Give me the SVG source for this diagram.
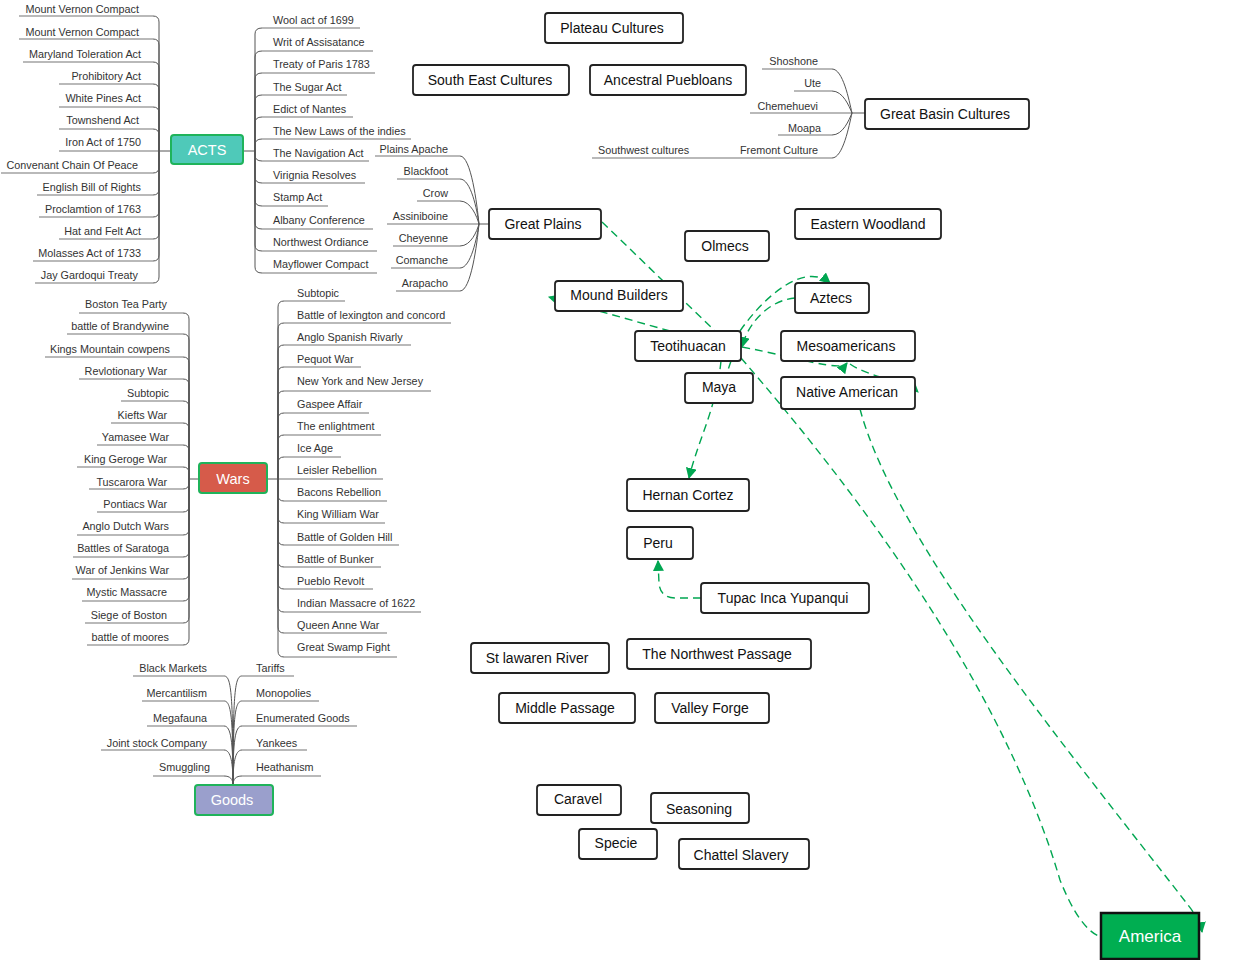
<svg xmlns="http://www.w3.org/2000/svg" width="1240" height="960" viewBox="0 0 1240 960">
<defs>
<style>
.bg{fill:#fff}
.n rect{fill:#fff;stroke:#222;stroke-width:1.8}
.n text,.root text{font-family:"Liberation Sans",Arial,sans-serif;font-size:14px;fill:#111;text-anchor:middle}
.root rect{stroke:#1fb35a;stroke-width:2}
.root text{fill:#fff;font-size:14.5px}
.lbl{font-family:"Liberation Sans",Arial,sans-serif;font-size:10.8px;fill:#333}
.e{text-anchor:end}
.ul{stroke:#a3a3a3;stroke-width:1.4;fill:none}
.br{stroke:#555;stroke-width:1;fill:none}
.gc{stroke:#00a651;stroke-width:1.4;stroke-dasharray:8 5;fill:none}
</style>
<marker id="ah" viewBox="0 0 10 10" refX="9" refY="5" markerWidth="11" markerHeight="11" markerUnits="userSpaceOnUse" orient="auto">
<path d="M0,0 L10,5 L0,10 z" fill="#00a651"/>
</marker>
</defs>
<rect class="bg" x="0" y="0" width="1240" height="960"/>

<!-- mind-map branches -->
<g id="branches">
<!-- ACTS left -->
<path class="ul" d="M19,16H153 M19,39H153 M23,62H153 M59,84H153 M59,107H153 M59,129H153 M59,151H159 M1,173H153 M37,195H153 M39,217H153 M59,239H153 M33,261H153 M35,283H153"/>
<path class="br" d="M153,16Q159,16 159,22V151 M153,39Q159,39 159,45V151 M153,62Q159,62 159,68V151 M153,84Q159,84 159,90V151 M153,107Q159,107 159,113V151 M153,129Q159,129 159,135V151 M153,173Q159,173 159,167V151 M153,195Q159,195 159,189V151 M153,217Q159,217 159,211V151 M153,239Q159,239 159,233V151 M153,261Q159,261 159,255V151 M153,283Q159,283 159,277V151 M159,151H171"/>
<!-- ACTS right -->
<path class="ul" d="M262,28H360 M262,51H373 M262,73H375 M262,95H347 M262,117H353 M262,139H411 M262,161H369 M262,183H365 M262,206H328 M262,229H373 M262,251H377 M262,273H377"/>
<path class="br" d="M262,28Q255,28 255,34V151 M262,51Q255,51 255,57V151 M262,73Q255,73 255,79V151 M262,95Q255,95 255,101V151 M262,117Q255,117 255,123V151 M262,139Q255,139 255,145V151 M262,161Q255,161 255,155V151 M262,183Q255,183 255,177V151 M262,206Q255,206 255,200V151 M262,229Q255,229 255,223V151 M262,251Q255,251 255,245V151 M262,273Q255,273 255,267V151 M243,151H255"/>
<!-- Great Plains -->
<path class="ul" d="M375,156H460 M397,179H460 M417,201H460 M387,224H479 M393,246H460 M391,268H460 M396,291H460"/>
<path class="br" d="M460,156C471,156 477,204 479,224 M460,179C471,179 477,210 479,224 M460,201C471,201 477,217 479,224 M460,246C471,246 477,231 479,224 M460,268C471,268 477,237 479,224 M460,291C471,291 477,244 479,224 M479,224H489"/>
<!-- Great Basin -->
<path class="ul" d="M762,69H832 M794,91H832 M750,113H852 M778,135H832 M592,158H832"/>
<path class="br" d="M832,69C843,69 849,100 852,113 M832,91C843,91 849,106 852,113 M832,135C843,135 849,120 852,113 M832,158C843,158 849,126 852,113 M852,113H865"/>
<!-- Wars left -->
<path class="ul" d="M79,313H183 M67,334H183 M45,357H183 M79,379H183 M121,401H183 M111,423H183 M97,445H183 M77,467H183 M89,489H183 M97,512H183 M77,535H183 M73,557H183 M72,579H183 M82,601H183 M85,623H183 M87,645H183"/>
<path class="br" d="M183,313Q189,313 189,319V479 M183,334Q189,334 189,340V479 M183,357Q189,357 189,363V479 M183,379Q189,379 189,385V479 M183,401Q189,401 189,407V479 M183,423Q189,423 189,429V479 M183,445Q189,445 189,451V479 M183,467Q189,467 189,473V479 M183,489Q189,489 189,483V479 M183,512Q189,512 189,506V479 M183,535Q189,535 189,529V479 M183,557Q189,557 189,551V479 M183,579Q189,579 189,573V479 M183,601Q189,601 189,595V479 M183,623Q189,623 189,617V479 M183,645Q189,645 189,639V479 M189,479H199"/>
<!-- Wars right -->
<path class="ul" d="M284,301H345 M284,323H451 M284,345H411 M284,367H361 M284,391H431 M284,413H369 M284,435H381 M284,457H341 M278,479H383 M284,501H387 M284,523H385 M284,545H399 M284,567H381 M284,589H373 M284,612H421 M284,633H387 M284,657H397"/>
<path class="br" d="M284,301Q278,301 278,307V479 M284,323Q278,323 278,329V479 M284,345Q278,345 278,351V479 M284,367Q278,367 278,373V479 M284,391Q278,391 278,397V479 M284,413Q278,413 278,419V479 M284,435Q278,435 278,441V479 M284,457Q278,457 278,463V479 M284,501Q278,501 278,495V479 M284,523Q278,523 278,517V479 M284,545Q278,545 278,539V479 M284,567Q278,567 278,561V479 M284,589Q278,589 278,583V479 M284,612Q278,612 278,606V479 M284,633Q278,633 278,627V479 M284,657Q278,657 278,651V479 M267,479H278"/>
<!-- Goods -->
<path class="ul" d="M133,676H224 M142,701H224 M147,726H224 M101,750H224 M153,776H224 M242,676H294 M242,701H319 M242,726H357 M242,750H307 M242,776H321"/>
<path class="br" d="M224,676C231,676 233,691 233,785 M224,701C231,701 233,716 233,785 M224,726C231,726 233,741 233,785 M224,750C231,750 233,763 233,785 M224,776C230,776 233,779 233,785 M242,676C235,676 233,691 233,785 M242,701C235,701 233,716 233,785 M242,726C235,726 233,741 233,785 M242,750C235,750 233,763 233,785 M242,776C236,776 233,779 233,785"/>
</g>

<!-- branch labels -->
<g id="acts-left-labels" class="lbl">
<text class="e" x="139" y="13">Mount Vernon Compact</text>
<text class="e" x="139" y="36">Mount Vernon Compact</text>
<text class="e" x="141" y="58">Maryland Toleration Act</text>
<text class="e" x="141" y="80">Prohibitory Act</text>
<text class="e" x="141" y="102">White Pines Act</text>
<text class="e" x="139" y="124">Townshend Act</text>
<text class="e" x="141" y="146">Iron Act of 1750</text>
<text class="e" x="138" y="169">Convenant Chain Of Peace</text>
<text class="e" x="141" y="191">English Bill of Rights</text>
<text class="e" x="141" y="213">Proclamtion of 1763</text>
<text class="e" x="141" y="235">Hat and Felt Act</text>
<text class="e" x="141" y="257">Molasses Act of 1733</text>
<text class="e" x="138" y="279">Jay Gardoqui Treaty</text>
</g>
<g id="acts-right-labels" class="lbl">
<text x="273" y="24">Wool act of 1699</text>
<text x="273" y="46">Writ of Assisatance</text>
<text x="273" y="68">Treaty of Paris 1783</text>
<text x="273" y="91">The Sugar Act</text>
<text x="273" y="113">Edict of Nantes</text>
<text x="273" y="135">The New Laws of the indies</text>
<text x="273" y="157">The Navigation Act</text>
<text x="273" y="179">Virignia Resolves</text>
<text x="273" y="201">Stamp Act</text>
<text x="273" y="224">Albany Conference</text>
<text x="273" y="246">Northwest Ordiance</text>
<text x="273" y="268">Mayflower Compact</text>
</g>
<g id="plains-labels" class="lbl">
<text class="e" x="448" y="153">Plains Apache</text>
<text class="e" x="448" y="175">Blackfoot</text>
<text class="e" x="448" y="197">Crow</text>
<text class="e" x="448" y="220">Assiniboine</text>
<text class="e" x="448" y="242">Cheyenne</text>
<text class="e" x="448" y="264">Comanche</text>
<text class="e" x="448" y="287">Arapacho</text>
</g>
<g id="basin-labels" class="lbl">
<text class="e" x="818" y="65">Shoshone</text>
<text class="e" x="821" y="87">Ute</text>
<text class="e" x="818" y="110">Chemehuevi</text>
<text class="e" x="821" y="132">Moapa</text>
<text class="e" x="818" y="154">Fremont Culture</text>
<text x="598" y="154">Southwest cultures</text>
</g>
<g id="wars-left-labels" class="lbl">
<text class="e" x="167" y="308">Boston Tea Party</text>
<text class="e" x="169" y="330">battle of Brandywine</text>
<text class="e" x="170" y="353">Kings Mountain cowpens</text>
<text class="e" x="167" y="375">Revlotionary War</text>
<text class="e" x="169" y="397">Subtopic</text>
<text class="e" x="167" y="419">Kiefts War</text>
<text class="e" x="169" y="441">Yamasee War</text>
<text class="e" x="167" y="463">King Geroge War</text>
<text class="e" x="167" y="486">Tuscarora War</text>
<text class="e" x="167" y="508">Pontiacs War</text>
<text class="e" x="169" y="530">Anglo Dutch Wars</text>
<text class="e" x="169" y="552">Battles of Saratoga</text>
<text class="e" x="169" y="574">War of Jenkins War</text>
<text class="e" x="167" y="596">Mystic Massacre</text>
<text class="e" x="167" y="619">Siege of Boston</text>
<text class="e" x="169" y="641">battle of moores</text>
</g>
<g id="wars-right-labels" class="lbl">
<text x="297" y="297">Subtopic</text>
<text x="297" y="319">Battle of lexington and concord</text>
<text x="297" y="341">Anglo Spanish Rivarly</text>
<text x="297" y="363">Pequot War</text>
<text x="297" y="385">New York and New Jersey</text>
<text x="297" y="408">Gaspee Affair</text>
<text x="297" y="430">The enlightment</text>
<text x="297" y="452">Ice Age</text>
<text x="297" y="474">Leisler Rebellion</text>
<text x="297" y="496">Bacons Rebellion</text>
<text x="297" y="518">King William War</text>
<text x="297" y="541">Battle of Golden Hill</text>
<text x="297" y="563">Battle of Bunker</text>
<text x="297" y="585">Pueblo Revolt</text>
<text x="297" y="607">Indian Massacre of 1622</text>
<text x="297" y="629">Queen Anne War</text>
<text x="297" y="651">Great Swamp Fight</text>
</g>
<g id="goods-labels" class="lbl">
<text class="e" x="207" y="672">Black Markets</text>
<text class="e" x="207" y="697">Mercantilism</text>
<text class="e" x="207" y="722">Megafauna</text>
<text class="e" x="207" y="747">Joint stock Company</text>
<text class="e" x="210" y="771">Smuggling</text>
<text x="256" y="672">Tariffs</text>
<text x="256" y="697">Monopolies</text>
<text x="256" y="722">Enumerated Goods</text>
<text x="256" y="747">Yankees</text>
<text x="256" y="771">Heathanism</text>
</g>

<!-- connectors -->
<g id="connectors">
<path class="gc" d="M602,222 L715,331"/>
<path class="gc" d="M670,331 L549,297" marker-end="url(#ah)"/>
<path class="gc" d="M740,331 C765,295 805,262 830,283" marker-end="url(#ah)"/>
<path class="gc" d="M795,298 C770,300 748,322 742,347" marker-end="url(#ah)"/>
<path class="gc" d="M742,347 C800,358 840,372 847,363" marker-end="url(#ah)"/>
<path class="gc" d="M850,364 C870,378 905,380 918,392" marker-end="url(#ah)"/>
<path class="gc" d="M721,361 C716,410 698,440 689,478" marker-end="url(#ah)"/>
<path class="gc" d="M731,361 L727,373"/>
<path class="gc" d="M701,598 L676,598 Q660,598 659,583 L658,561" marker-end="url(#ah)"/>
<path class="gc" d="M741,358 C890,530 1010,710 1060,880 Q1080,930 1101,937"/>
<path class="gc" d="M860,409 C895,540 1060,740 1188,905 Q1200,920 1202,932" marker-end="url(#ah)"/>
</g>

<!-- root nodes -->
<g id="acts" class="root"><rect x="171" y="135" width="72" height="29" rx="3" fill="#4fc9b9"/><text x="207" y="155">ACTS</text></g>
<g id="wars" class="root"><rect x="199" y="463" width="68" height="30" rx="3" fill="#d65b4a"/><text x="233" y="484">Wars</text></g>
<g id="goods" class="root"><rect x="195" y="785" width="78" height="30" rx="3" fill="#9a9fcc"/><text x="232" y="805">Goods</text></g>

<!-- boxed nodes -->
<g id="plateau" class="n"><rect x="545" y="13" width="138" height="30" rx="3"/><text x="612" y="33">Plateau Cultures</text></g>
<g id="southeast" class="n"><rect x="413" y="65" width="156" height="30" rx="3"/><text x="490" y="85">South East Cultures</text></g>
<g id="ancestral" class="n"><rect x="590" y="65" width="156" height="30" rx="3"/><text x="668" y="85">Ancestral Puebloans</text></g>
<g id="greatbasin" class="n"><rect x="865" y="99" width="164" height="30" rx="3"/><text x="945" y="119">Great Basin Cultures</text></g>
<g id="greatplains" class="n"><rect x="489" y="209" width="112" height="30" rx="3"/><text x="543" y="229">Great Plains</text></g>
<g id="eastern" class="n"><rect x="795" y="209" width="146" height="30" rx="3"/><text x="868" y="229">Eastern Woodland</text></g>
<g id="olmecs" class="n"><rect x="685" y="231" width="84" height="30" rx="3"/><text x="725" y="251">Olmecs</text></g>
<g id="mound" class="n"><rect x="555" y="281" width="128" height="30" rx="3"/><text x="619" y="300">Mound Builders</text></g>
<g id="aztecs" class="n"><rect x="795" y="283" width="74" height="30" rx="3"/><text x="831" y="303">Aztecs</text></g>
<g id="teotihuacan" class="n"><rect x="635" y="331" width="106" height="30" rx="3"/><text x="688" y="351">Teotihuacan</text></g>
<g id="mesoamericans" class="n"><rect x="781" y="331" width="134" height="30" rx="3"/><text x="846" y="351">Mesoamericans</text></g>
<g id="maya" class="n"><rect x="685" y="373" width="68" height="30" rx="3"/><text x="719" y="392">Maya</text></g>
<g id="native" class="n"><rect x="781" y="377" width="134" height="32" rx="3"/><text x="847" y="397">Native American</text></g>
<g id="cortez" class="n"><rect x="627" y="479" width="122" height="32" rx="3"/><text x="688" y="500">Hernan Cortez</text></g>
<g id="peru" class="n"><rect x="627" y="527" width="66" height="32" rx="3"/><text x="658" y="548">Peru</text></g>
<g id="tupac" class="n"><rect x="701" y="583" width="168" height="30" rx="3"/><text x="783" y="603">Tupac Inca Yupanqui</text></g>
<g id="stlawrence" class="n"><rect x="471" y="643" width="138" height="30" rx="3"/><text x="537" y="663">St lawaren River</text></g>
<g id="northwest" class="n"><rect x="627" y="639" width="184" height="30" rx="3"/><text x="717" y="659">The Northwest Passage</text></g>
<g id="middle" class="n"><rect x="499" y="693" width="136" height="30" rx="3"/><text x="565" y="713">Middle Passage</text></g>
<g id="valley" class="n"><rect x="655" y="693" width="114" height="30" rx="3"/><text x="710" y="713">Valley Forge</text></g>
<g id="caravel" class="n"><rect x="537" y="785" width="84" height="30" rx="3"/><text x="578" y="804">Caravel</text></g>
<g id="seasoning" class="n"><rect x="651" y="793" width="98" height="30" rx="3"/><text x="699" y="814">Seasoning</text></g>
<g id="specie" class="n"><rect x="579" y="829" width="78" height="30" rx="3"/><text x="616" y="848">Specie</text></g>
<g id="chattel" class="n"><rect x="679" y="839" width="130" height="30" rx="3"/><text x="741" y="860">Chattel Slavery</text></g>
<g id="america"><rect x="1101" y="913" width="98" height="46" fill="#00ae51" stroke="#111" stroke-width="2.5"/><text x="1150" y="942" font-family="Liberation Sans, Arial, sans-serif" font-size="17" fill="#fff" text-anchor="middle">America</text></g>
</svg>
